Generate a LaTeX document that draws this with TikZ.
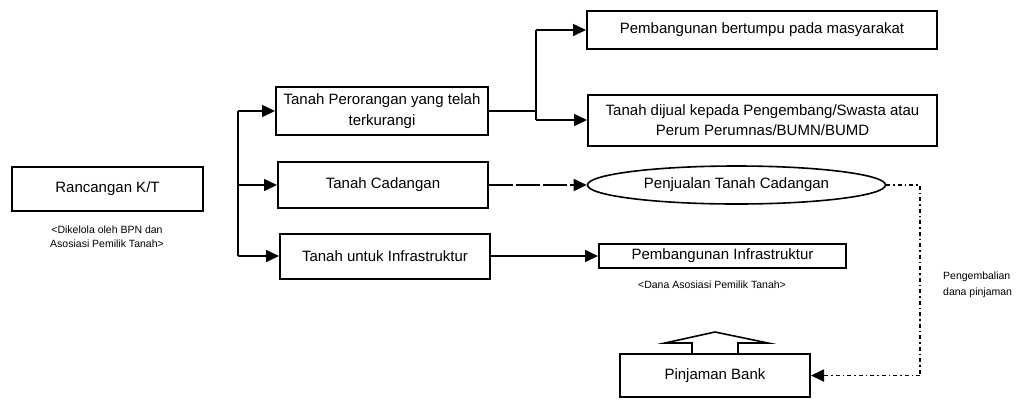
\documentclass[tikz,border=0pt]{standalone}
\usepackage{fontspec}
\setmainfont{Liberation Sans}
\usetikzlibrary{arrows.meta,shapes.geometric}
\begin{document}
\begin{tikzpicture}[x=1pt,y=-1pt,
  box/.style={draw, line width=2pt, rectangle, inner sep=0pt, align=center,
    font=\fontsize{15}{20.5}\selectfont},
  oval/.style={draw, line width=1.6pt, ellipse, inner sep=0pt,
    font=\fontsize{15}{20.5}\selectfont},
  note/.style={inner sep=0pt, font=\fontsize{10.5}{14}\selectfont},
  wire/.style={line width=1.6pt},
  link/.style={line width=1.6pt, -{Triangle[length=13pt,width=12pt]}},
  longdash/.style={dash pattern=on 24pt off 3pt},
  dashdot/.style={line width=1.8pt, dash pattern=on 4pt off 3pt on 1.5pt off 3pt},
  blockarrow/.style={line width=1.6pt, line join=miter}
]
\useasboundingbox (0,0) rectangle (1018,400);

% left: plan and its note
\node[box, minimum width=191pt, minimum height=44pt] (ranc) at (107.5,189) {Rancangan K/T};
\node[note, align=center] (rancnote) at (107,237) {<Dikelola oleh BPN dan\\Asosiasi Pemilik Tanah>};

% middle column
\node[box, minimum width=212pt, minimum height=48pt] (tp) at (382,111)
  {Tanah Perorangan yang telah\\terkurangi};
\node[box, minimum width=210pt, minimum height=46pt] (tc) at (383,185) {Tanah Cadangan};
\node[box, minimum width=210pt, minimum height=45pt] (ti) at (385,256) {Tanah untuk Infrastruktur};

% right column
\node[box, minimum width=350pt, minimum height=38pt] (pb) at (762,30)
  {Pembangunan bertumpu pada masyarakat};
\node[box, minimum width=349pt, minimum height=51pt] (tj) at (762.5,120)
  {Tanah dijual kepada Pengembang/Swasta atau\\Perum Perumnas/BUMN/BUMD};
\node[oval, minimum width=298pt, minimum height=38pt] (ell) at (736.5,185)
  {Penjualan Tanah Cadangan};
\node[box, minimum width=247pt, minimum height=24pt] (pi) at (722.5,256)
  {Pembangunan Infrastruktur};
\node[note] (pinote) at (712,285) {<Dana Asosiasi Pemilik Tanah>};
\node[box, minimum width=190pt, minimum height=43pt] (bank) at (715,375.5) {Pinjaman Bank};
\node[note, anchor=west, align=left, font=\fontsize{10.5}{16}\selectfont] (retnote) at (943,285)
  {Pengembalian\\dana pinjaman};

% trunk feeding the middle column
\coordinate (tA) at (238,111);
\coordinate (tB) at (238,185);
\coordinate (tC) at (238,256);
\draw[wire] (tA) -- (tC);
\draw[link] (tA) -- (tp.west);
\draw[link] (tB) -- (tc.west);
\draw[link] (tC) -- (ti.west);

% split from the individual land box
\coordinate (sp) at (536,111);
\coordinate (spTop) at (536,30);
\coordinate (spBot) at (536,120);
\draw[wire] (tp.east) -- (sp);
\draw[wire] (spTop) -- (spBot);
\draw[link] (spTop) -- (pb.west);
\draw[link] (spBot) -- (tj.west);

% reserve land and infrastructure
\draw[link, longdash] (tc.east) -- (ell.west);
\draw[link] (ti.east) -- (pi.west);

% loan repayment loop
\coordinate (rA) at (920,185);
\coordinate (rB) at (920,375.5);
\draw[dashdot] (ell.east) -- (rA) -- (rB);
\draw[dashdot, -{Triangle[length=13pt,width=12pt]}] (rB) -- (bank.east);

% block arrow on top of the bank loan box
\begin{scope}[shift={(bank.north)}]
  \draw[blockarrow] (-23,0) -- (-23,-10) -- (-50,-10) -- (0,-21) -- (53,-10) -- (23,-10) -- (23,0);
\end{scope}
\end{tikzpicture}
\end{document}
